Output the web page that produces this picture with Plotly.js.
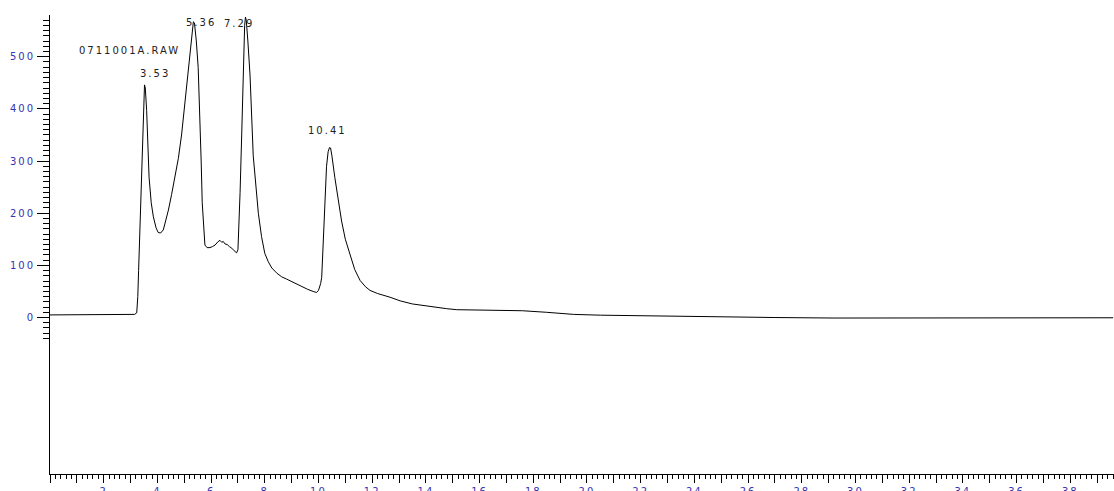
<!DOCTYPE html>
<html>
<head>
<meta charset="utf-8">
<script src="https://cdn.plot.ly/plotly-3.0.1.min.js"></script>
<style>
html,body{margin:0;padding:0;background:#fff;overflow:hidden;}
#chart{width:1114px;height:491px;}
.xtick text,.ytick text,.annotation-text{letter-spacing:2px;}
</style>
</head>
<body>
<div id="chart"></div>
<script>
// Retention time (min)
const times = [0,3.0,3.15,3.23,3.27,3.3,3.36,3.44,3.49,3.52,3.55,3.6,3.69,3.77,3.85,3.95,4.03,4.12,4.22,4.31,4.41,4.53,4.66,4.78,4.9,5.0,5.09,5.18,5.27,5.34,5.38,5.45,5.52,5.58,5.63,5.67,5.72,5.77,5.85,5.96,6.05,6.15,6.25,6.33,6.4,6.45,6.52,6.6,6.68,6.77,6.86,6.95,7.0,7.05,7.08,7.14,7.2,7.25,7.28,7.31,7.37,7.45,7.57,7.66,7.76,7.88,8.0,8.13,8.26,8.45,8.63,8.8,9.0,9.2,9.4,9.6,9.8,9.93,10.0,10.08,10.12,10.18,10.24,10.3,10.36,10.41,10.45,10.5,10.61,10.73,10.86,11.0,11.17,11.35,11.55,11.75,11.92,12.2,12.66,13.04,13.5,14.0,14.77,15.15,16.0,17.0,17.6,18.5,19.5,20.5,22.3,24,25.4,27,29.2,32,36,39.6];
// Detector signal
const signal = [5,5,6,9,40,90,200,350,430,446,440,397,269,220,193,172,163,162,168,184,206,236,270,305,350,400,450,493,535,567,565,530,479,400,300,220,165,139,134,134,136,139,145,148,144,146,141,140,136,133,128,124,130,190,240,350,479,560,576,570,530,465,310,250,200,155,123,107,95,85,78,74,69,63,58,54,50,48,52,65,77,150,236,290,318,326,325,310,268,225,185,150,121,92,71,59,52,46,39,32,26,22,17,15,14,14,13,10,6,4.5,3,1.5,0.6,0,-1,-0.5,-0.5,-0.5];

// Peak labels
const peakTimes = [3.53,5.36,7.29,10.41];
const peakHeights = [446,567,576,326];
const peakLabels = ["3.53","5.36","7.29","10.41"];
const fileLabel = "0711001A.RAW";

// Axis ticks
const yMajorVals = [0,50,100,150,200,250,300,350,400,450,500,550];
const yMajorText = ["0","","100","","200","","300","","400","","500",""];
const yMinorVals = [];
for (let v=-40; v<=570; v+=10) yMinorVals.push(v);
const xMajorVals = [];
const xMajorText = [];
for (let i=0;i<=39;i++){ xMajorVals.push(i); xMajorText.push(i>0 && i%2===0 ? String(i) : ""); }

const labelShift = [[10,4],[7,-8],[-7,-14],[-2,9]];

const annotations = peakTimes.map((t,i)=>({
  x:t, y:peakHeights[i], xref:'x', yref:'y', text:peakLabels[i], showarrow:false,
  xshift:labelShift[i][0], yshift:labelShift[i][1], yanchor:'bottom',
  font:{family:'DejaVu Sans', size:10, color:'#222'}
}));
annotations.push({
  x:0.0747, y:0.9237, xref:'paper', yref:'paper', text:fileLabel, showarrow:false,
  xanchor:'center', yanchor:'middle',
  font:{family:'DejaVu Sans', size:10, color:'#222'}
});

const trace = {
  x: times, y: signal, type:'scatter', mode:'lines',
  line:{color:'#000', width:1}, hoverinfo:'skip', cliponaxis:false
};

const layout = {
  width:1114, height:491,
  margin:{l:50, r:0, t:15, b:17},
  paper_bgcolor:'#fff', plot_bgcolor:'#fff',
  showlegend:false,
  xaxis:{
    range:[0,39.63], showgrid:false, zeroline:false,
    showline:true, linecolor:'#000', linewidth:1,
    tickmode:'array', tickvals:xMajorVals, ticktext:xMajorText,
    ticks:'outside', ticklen:8, tickwidth:1, tickcolor:'#000',
    tickfont:{family:'DejaVu Sans', size:10, color:'#3434b4'},
    minor:{dtick:0.2, ticks:'outside', ticklen:4, tickwidth:1, tickcolor:'#000', showgrid:false}
  },
  yaxis:{
    range:[-300,580], showgrid:false, zeroline:false,
    showline:true, linecolor:'#000', linewidth:1,
    tickmode:'array', tickvals:yMajorVals, ticktext:yMajorText,
    ticks:'outside', ticklen:12, tickwidth:1, tickcolor:'#000',
    tickfont:{family:'DejaVu Sans', size:10, color:'#3434b4'},
    minor:{tickmode:'array', tickvals:yMinorVals, ticks:'outside', ticklen:6, tickwidth:1, tickcolor:'#000', showgrid:false}
  },
  annotations: annotations
};

Plotly.newPlot('chart',[trace],layout,{staticPlot:true, displayModeBar:false});
</script>
</body>
</html>
